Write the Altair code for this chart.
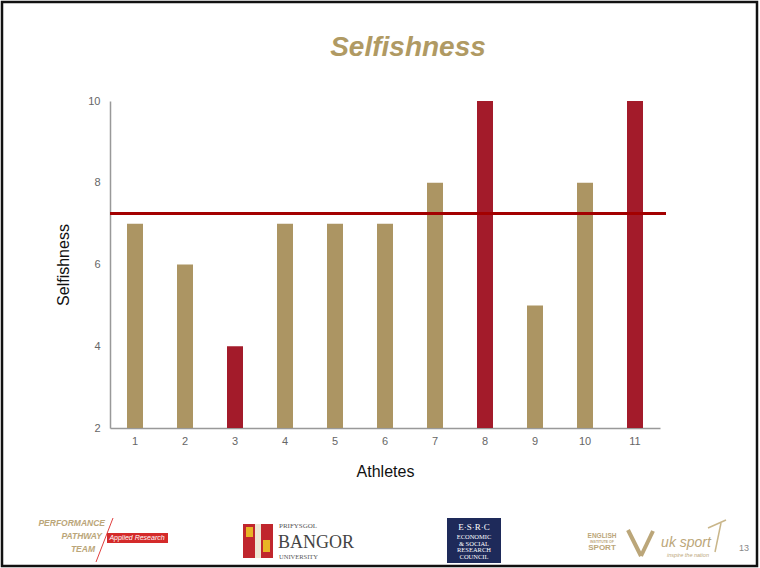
import altair as alt
import pandas as pd

athletes = [str(i) for i in range(1, 12)]
selfishness = [7, 6, 4, 7, 7, 7, 8, 10, 5, 8, 10]
highlight = [False, False, True, False, False, False, False, True, False, False, True]
mean_line = 7.25
y_ticks = [2, 4, 6, 8, 10]
y_min = 2

GOLD = "#AC9563"
RED = "#A31B2A"
LINE_RED = "#A30000"
TITLE_GOLD = "#B09A63"
LOGO_GOLD = "#BBA679"
FONT = "Liberation Sans"

df = pd.DataFrame({
    "Athlete": athletes,
    "Selfishness": selfishness,
    "base": [y_min] * len(athletes),
    "color": [RED if h else GOLD for h in highlight],
})

OX, OY = 110, 101  # plot origin in page pixels


def txt(s, px, py, size=10, color="#333", weight="normal", style="normal",
        font=FONT, align="center", baseline="middle"):
    return alt.Chart(pd.DataFrame({"t": [s]})).mark_text(
        fontSize=size, color=color, fontWeight=weight, fontStyle=style,
        font=font, align=align, baseline=baseline).encode(
        x=alt.value(px - OX), y=alt.value(py - OY), text="t:N")


def box(x1, y1, x2, y2, fill, stroke=None, sw=0):
    kw = dict(color=fill)
    if stroke:
        kw = dict(fill=fill, stroke=stroke, strokeWidth=sw)
    return alt.Chart(pd.DataFrame({"t": [0]})).mark_rect(**kw).encode(
        x=alt.value(x1 - OX), x2=alt.value(x2 - OX),
        y=alt.value(y1 - OY), y2=alt.value(y2 - OY))


def seg(x1, y1, x2, y2, color, w=1):
    return alt.Chart(pd.DataFrame({"t": [0]})).mark_rule(color=color, strokeWidth=w).encode(
        x=alt.value(x1 - OX), x2=alt.value(x2 - OX),
        y=alt.value(y1 - OY), y2=alt.value(y2 - OY))


bars = alt.Chart(df).mark_bar(size=16).encode(
    x=alt.X("Athlete:N", sort=athletes,
            scale=alt.Scale(paddingInner=0, paddingOuter=0),
            axis=alt.Axis(title="Athletes", labelAngle=0, ticks=False,
                          labelPadding=7, labelFontSize=11, labelColor="#666",
                          labelFont=FONT, titleFont=FONT, titleFontSize=16,
                          titleFontWeight="normal", titleColor="#111",
                          titlePadding=17, domainColor="#999", domainWidth=1.5)),
    y=alt.Y("Selfishness:Q",
            scale=alt.Scale(domain=[2, 10], nice=False, zero=False),
            axis=alt.Axis(title="Selfishness", values=y_ticks, ticks=False,
                          grid=False, labelPadding=10, labelFontSize=11,
                          labelColor="#666", labelFont=FONT, titleFont=FONT,
                          titleFontSize=16, titleFontWeight="normal",
                          titleColor="#111", titlePadding=16,
                          domainColor="#999", domainWidth=1.5)),
    y2="base:Q",
    color=alt.Color("color:N", scale=None),
)

rule = alt.Chart(pd.DataFrame({"m": [mean_line]})).mark_rule(
    color=LINE_RED, strokeWidth=3).encode(
    y="m:Q", x=alt.value(0), x2=alt.value(666 - OX))

layers = [bars, rule]

# title
layers.append(txt("Selfishness", 408, 48, size=28, color=TITLE_GOLD,
                  weight="bold", style="italic"))

# frame
layers.append(box(2, 2, 757, 566, "transparent", stroke="#111", sw=2.5))

# Performance Pathway Team logo
layers.append(txt("PERFORMANCE", 105, 523, size=8.5, color=LOGO_GOLD, weight="bold",
                  style="italic", align="right"))
layers.append(txt("PATHWAY", 102, 536, size=8.5, color=LOGO_GOLD, weight="bold",
                  style="italic", align="right"))
layers.append(txt("TEAM", 95, 549, size=8.5, color=LOGO_GOLD, weight="bold",
                  style="italic", align="right"))
layers.append(seg(113, 518, 96, 562, "#E04040", 1))
layers.append(box(107, 533, 168, 543, "#D42A2A"))
layers.append(txt("Applied Research", 137, 538, size=7, color="white", style="italic"))

# Bangor logo
layers.append(box(243, 524, 273, 558, "#C0262D"))
layers.append(box(255, 524, 261, 558, "#EDE6D4"))
layers.append(box(246, 527, 253, 537, "#E8B425"))
layers.append(box(263, 540, 270, 552, "#E8B425"))
layers.append(txt("PRIFYSGOL", 279, 529, size=7, color="#555", font="Liberation Serif",
                  align="left", baseline="bottom"))
layers.append(txt("BANGOR", 278, 548, size=18, color="#444", font="Liberation Serif",
                  align="left", baseline="alphabetic"))
layers.append(txt("UNIVERSITY", 279, 557, size=6.5, color="#555", font="Liberation Serif",
                  align="left"))

# ESRC logo
layers.append(box(447, 518, 501, 563, "#1E2A5A"))
layers.append(txt("E·S·R·C", 474, 527, size=9, color="white", font="Liberation Serif"))
for i, w in enumerate(["ECONOMIC", "& SOCIAL", "RESEARCH", "COUNCIL"]):
    layers.append(txt(w, 474, 537 + i * 6.5, size=6.5, color="white",
                      font="Liberation Serif"))

# English Institute of Sport / UK Sport
layers.append(txt("ENGLISH", 602, 536, size=6.5, color=LOGO_GOLD, weight="bold"))
layers.append(txt("INSTITUTE OF", 602, 541.5, size=3.5, color=LOGO_GOLD, weight="bold"))
layers.append(txt("SPORT", 602, 548, size=8, color=LOGO_GOLD, weight="bold"))
layers.append(seg(628, 530, 641, 556, LOGO_GOLD, 4))
layers.append(seg(641, 556, 653, 531, LOGO_GOLD, 4))
layers.append(txt("uk sport", 686, 543, size=14, color=LOGO_GOLD, style="italic"))
layers.append(txt("inspire the nation", 688, 555, size=5.5, color=LOGO_GOLD,
                  style="italic"))
layers.append(seg(721, 523, 715, 552, "#C9B68A", 1.5))
layers.append(seg(708, 528, 726, 520, "#C9B68A", 1.5))
layers.append(txt("13", 744, 548, size=9, color="#888"))

chart = alt.layer(*layers).properties(
    width=550, height=327,
    autosize=alt.AutoSizeParams(type="none"),
    padding={"left": 110, "top": 101, "right": 100, "bottom": 140},
    background="white",
).configure_view(stroke=None)

chart.save("out.html", embed_options={"renderer": "svg", "actions": False})
